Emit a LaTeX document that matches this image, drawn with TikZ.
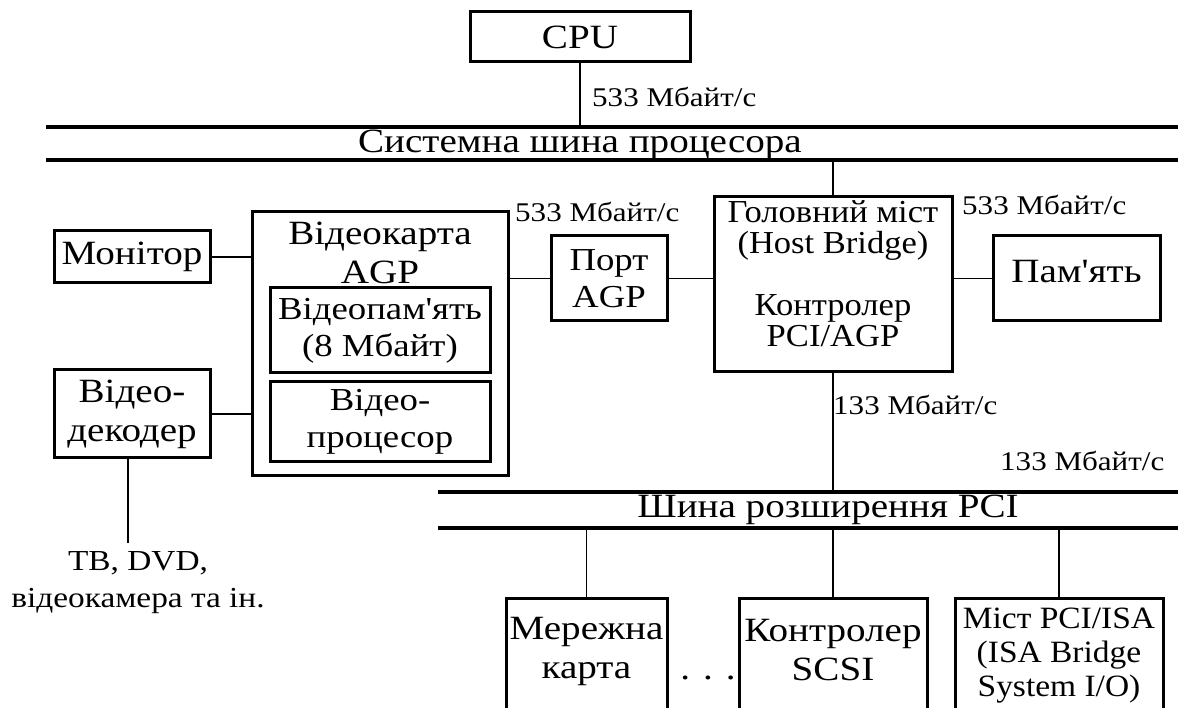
\documentclass[tikz,border=0pt]{standalone}
\usepackage{fontspec}
\setmainfont{Liberation Serif}[FakeStretch=1.15, Ligatures=TeXOff]
\newfontfamily\condfont{Liberation Serif}[FakeStretch=1.08, Ligatures=TeXOff]
\begin{document}
\begin{tikzpicture}[x=1pt,y=-1pt,
  box/.style={draw, line width=3pt, inner sep=0pt},
  conn/.style={line width=1.3pt},
  bus/.style={line width=3.5pt},
  big/.style={font=\fontsize{34}{39}\selectfont, align=center, inner sep=0pt},
  inner/.style={font=\fontsize{32}{37}\selectfont, align=center, inner sep=0pt},
  cond/.style={font=\condfont\fontsize{32}{31}\selectfont, align=center, inner sep=0pt},
  lab/.style={font=\fontsize{27}{31}\selectfont, anchor=west, inner sep=0pt}]
\useasboundingbox (0,0) rectangle (1187,708);
\clip (0,0) rectangle (1187,708);

% CPU and system bus
\node[box, big, minimum width=220pt, minimum height=50pt] (cpu) at (580,37) {CPU};
\coordinate (sb1l) at (46,127);
\coordinate (sb1r) at (1178,127);
\coordinate (sb2l) at (46,160);
\coordinate (sb2r) at (1178,160);
\draw[bus] (sb1l) -- (sb1r);
\draw[bus] (sb2l) -- (sb2r);
\node[big] (sysbus) at (580,145) {Системна шина процесора};
\draw[conn] (cpu.south) -- (cpu.south |- sb1l);
\node[lab] (l1) at (592,97) {533 Мбайт/с};

% Host bridge
\node[box, minimum width=238pt, minimum height=175pt] (hb) at (833,284.5) {};
\node[cond] (hbt) at (833,274) {Головний міст\\(Host Bridge)\\[31pt]Контролер\\PCI/AGP};
\draw[conn] (hb.north |- sb2l) -- (hb.north);
\node[lab] (l3) at (962,205) {533 Мбайт/с};

% Memory
\node[box, minimum width=167pt, minimum height=85pt] (mem) at (1076.5,278.5) {};
\node[big] (memt) at (1076.5,272) {Пам'ять};
\draw[conn] (hb.east |- mem.west) -- (mem.west);

% AGP port
\node[box, inner, minimum width=116pt, minimum height=85pt] (port) at (609,278.5) {Порт\\AGP};
\draw[conn] (port.east) -- (hb.west |- port.east);
\node[lab] (l2) at (515,212) {533 Мбайт/с};

% Video card
\node[box, minimum width=256pt, minimum height=264pt] (vc) at (380,344) {};
\node[big] (vct) at (380,253) {Відеокарта\\AGP};
\node[box, inner, minimum width=220pt, minimum height=85pt] (vmem) at (380,330.5) {Відеопам'ять\\(8 Мбайт)};
\node[box, inner, minimum width=220pt, minimum height=80pt] (vproc) at (380,422) {Відео-\\процесор};
\draw[conn] (vc.east |- port.west) -- (port.west);

% Monitor, decoder
\node[box, big, minimum width=156pt, minimum height=52pt] (mon) at (132,257) {Монітор};
\draw[conn] (mon.east) -- (vc.west |- mon.east);
\node[box, big, minimum width=156pt, minimum height=88pt] (dec) at (132,414) {Відео-\\декодер};
\draw[conn] (dec.east) -- (vc.west |- dec.east);
\coordinate (decend) at (128,543);
\draw[conn] (dec.south -| decend) -- (decend);
\node[font=\fontsize{29}{37}\selectfont, align=center, inner sep=0pt] (src) at (138,583) {ТВ, DVD,\\відеокамера та ін.};

% PCI bus
\coordinate (pb1l) at (438,492);
\coordinate (pb1r) at (1178,492);
\coordinate (pb2l) at (438,528);
\coordinate (pb2r) at (1178,528);
\draw[bus] (pb1l) -- (pb1r);
\draw[bus] (pb2l) -- (pb2r);
\node[big] (pcibus) at (828,510) {Шина розширення PCI};
\draw[conn] (hb.south) -- (hb.south |- pb1l);
\node[lab] (l4) at (833,405) {133 Мбайт/с};
\node[lab] (l5) at (1000,461) {133 Мбайт/с};

% Bottom devices
\node[box, minimum width=161pt, minimum height=130pt] (net) at (586.5,663) {};
\node[big] (nett) at (586.5,651) {Мережна\\карта};
\node[box, minimum width=188pt, minimum height=130pt] (scsi) at (833,663) {};
\node[big] (scsit) at (833,650) {Контролер\\SCSI};
\node[box, minimum width=208pt, minimum height=130pt] (isa) at (1059,663) {};
\node[cond, font=\condfont\fontsize{31}{34}\selectfont] (isat) at (1059,656) {Міст PCI/ISA\\(ISA Bridge\\System I/O)};
\node[big] (dots) at (708,678) {. . .};
\draw[conn] (net.north |- pb2l) -- (net.north);
\draw[conn] (scsi.north |- pb2l) -- (scsi.north);
\draw[conn] (isa.north |- pb2l) -- (isa.north);
\end{tikzpicture}
\end{document}
